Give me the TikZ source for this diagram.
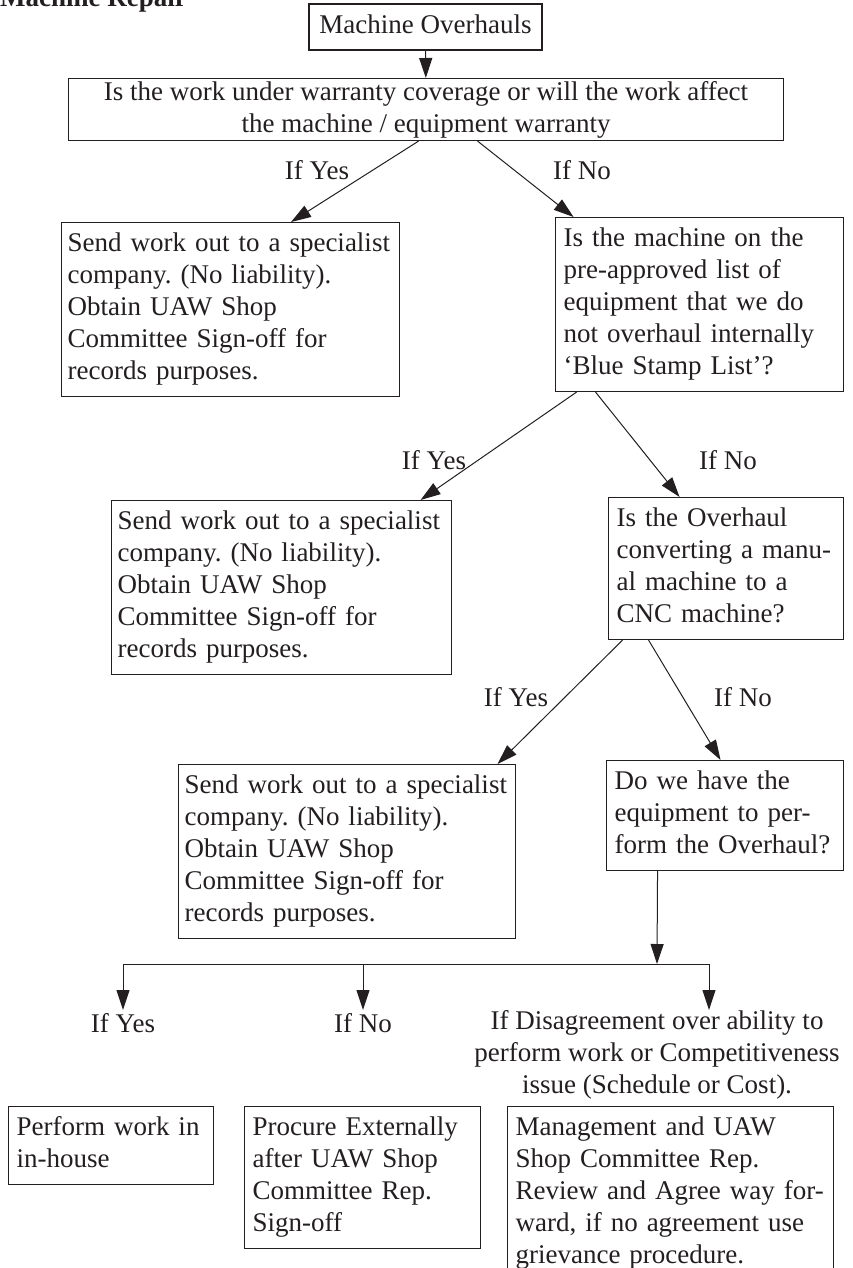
\documentclass[tikz,border=0pt]{standalone}
\usepackage{fontspec}
\setmainfont{Liberation Serif}
\usetikzlibrary{arrows.meta}
\definecolor{ink}{HTML}{231F20}
\begin{document}
\frenchspacing
\begin{tikzpicture}[x=1pt,y=-1pt,
  every node/.style={font=\fontsize{27}{32}\selectfont, text=ink},
  box/.style={draw=ink, line width=1.1pt, anchor=north west, align=left,
    inner xsep=8pt, inner ysep=7pt,
    execute at begin node=\strut, execute at end node=\strut},
  lbl/.style={inner sep=1pt},
  arr/.style={draw=ink, line width=1pt, -{Triangle[length=20pt,width=13pt]}},
  link/.style={draw=ink, line width=1pt}
]
\useasboundingbox (0,0) rectangle (852,1268);
\clip (0,0) rectangle (852,1268);

% heading, partly cut by the page edge
\node[anchor=base west, inner sep=0pt, font=\fontsize{27}{32}\selectfont\bfseries] (title) at (0,7) {Machine Repair};

% decision chain
\node[draw=ink, line width=1.1pt, minimum width=233pt, inner ysep=7pt,
  execute at begin node=\strut] (over) at (425.5,27) {Machine Overhauls};
\node[draw=ink, line width=1.1pt, anchor=north west, minimum width=715pt, minimum height=62pt,
  align=center, inner ysep=2pt] (q1) at (68,78)
  {Is the work under warranty coverage or will the work affect\\the machine / equipment warranty};

\node[box, inner xsep=6pt, text width=326pt] (send1) at (61,222)
  {Send work out to a specialist\\company. (No liability).\\Obtain UAW Shop\\Committee Sign-off for\\records purposes.};
\node[box, text width=272pt] (q2) at (555,217)
  {Is the machine on the\\pre-approved list of\\equipment that we do\\not overhaul internally\\‘Blue Stamp List’?};

\node[box, inner xsep=6pt, text width=328pt] (send2) at (111,500)
  {Send work out to a specialist\\company. (No liability).\\Obtain UAW Shop\\Committee Sign-off for\\records purposes.};
\node[box, text width=219pt] (q3) at (608,497)
  {Is the Overhaul\\converting a manu-\\al machine to a\\CNC machine?};

\node[box, inner xsep=6pt, text width=325pt] (send3) at (178,764)
  {Send work out to a specialist\\company. (No liability).\\Obtain UAW Shop\\Committee Sign-off for\\records purposes.};
\node[box, text width=221pt] (q4) at (606,760)
  {Do we have the\\equipment to per-\\form the Overhaul?};

% outcomes
\node[box, text width=189pt] (perform) at (8,1106) {Perform work in\\in-house};
\node[box, text width=220pt] (procure) at (244,1106)
  {Procure Externally\\after UAW Shop\\Committee Rep.\\Sign-off};
\node[box, text width=310pt] (manage) at (507,1106)
  {Management and UAW\\Shop Committee Rep.\\Review and Agree way for-\\ward, if no agreement use\\grievance procedure.};

% branch labels
\node[lbl] (y1) at (317,170) {If Yes};
\node[lbl] (n1) at (582,170) {If No};
\node[lbl] (y2) at (434,460) {If Yes};
\node[lbl] (n2) at (728,460) {If No};
\node[lbl] (y3) at (516,697) {If Yes};
\node[lbl] (n3) at (743,697) {If No};

\node[anchor=north, inner sep=0pt, execute at begin node=\strut] (y4) at (123,1010) {If Yes};
\node[anchor=north, inner sep=0pt, execute at begin node=\strut] (n4) at (363,1010) {If No};
\node[anchor=north, inner sep=0pt, align=center, execute at begin node=\strut] (d4) at (657,1010)
  {If Disagreement over ability to\\perform work or Competitiveness\\issue (Schedule or Cost).};

% connectors
\draw[arr] (over) -- (q1);
\draw[arr] ([xshift=-7.5pt]q1.south) -- ([xshift=60.5pt]send1.north);
\draw[arr] ([xshift=51.5pt]q1.south) -- ([xshift=-126pt]q2.north);
\draw[arr] ([xshift=-123pt]q2.south) -- ([xshift=139pt]send2.north);
\draw[arr] ([xshift=-104pt]q2.south) -- ([xshift=-46.5pt]q3.north);
\draw[arr] ([xshift=-103.5pt]q3.south) -- ([xshift=150.5pt]send3.north);
\draw[arr] ([xshift=-77.5pt]q3.south) -- ([xshift=-4.5pt]q4.north);

\coordinate (jn) at (657,964);
\coordinate (jl) at (123,964);
\coordinate (jm) at (363,964);
\coordinate (jr) at (709,964);
\draw[arr] ([xshift=-67.5pt]q4.south) -- (jn);
\draw[link] (jl) -- (jr);
\draw[arr] (jl) -- (y4.north);
\draw[arr] (jm) -- (n4.north);
\draw[arr] (jr) -- (jr |- d4.north);
\end{tikzpicture}
\end{document}
